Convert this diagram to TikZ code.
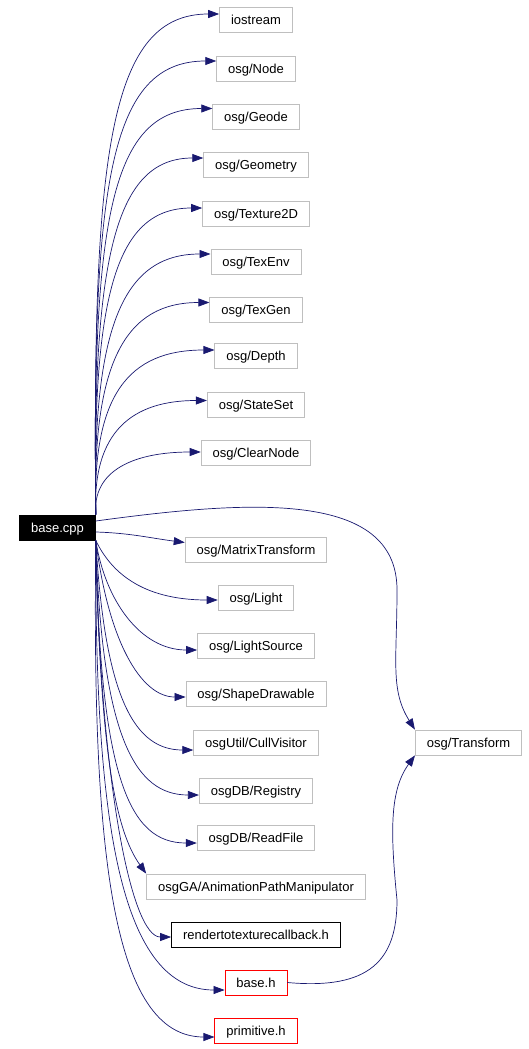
\documentclass[tikz,border=0pt]{standalone}
\usepackage{fontspec}
\setmainfont{Liberation Sans}
\usetikzlibrary{arrows.meta}

\definecolor{edgeblue}{RGB}{25,25,112}

\begin{document}
\begin{tikzpicture}[x=1pt,y=-1pt,>={Triangle[length=11pt,width=8pt]},
   box/.style={draw=gray!50,line width=0.8pt,minimum height=25pt,inner xsep=11.5pt,
               inner ysep=0pt,text height=9.6pt,text depth=0pt,font=\fontsize{13}{15}\selectfont},
   incl/.style={->,edgeblue,line width=0.7pt}]
  \useasboundingbox (0,0) rectangle (529,1049);
  % the source file
  \node[box,draw=black,fill=black,text=white] (base) at (57.5,527.5) {base.cpp};
  % included headers, one column
  \foreach \n/\t/\y in {io/iostream/20, node/{osg/Node}/68.5, geode/{osg/Geode}/116.5,
      geom/{osg/Geometry}/164.5, texd/{osg/Texture2D}/213.5, texenv/{osg/TexEnv}/261.5,
      texgen/{osg/TexGen}/309.5, depth/{osg/Depth}/355.5, sset/{osg/StateSet}/404.5,
      clear/{osg/ClearNode}/452.5, mtrans/{osg/MatrixTransform}/549.5, light/{osg/Light}/597.5,
      lsrc/{osg/LightSource}/645.5, shape/{osg/ShapeDrawable}/693.5,
      cull/{osgUtil/CullVisitor}/742.5, reg/{osgDB/Registry}/790.5, read/{osgDB/ReadFile}/838,
      anim/{osgGA/AnimationPathManipulator}/886.5}
    \node[box] (\n) at (256,\y) {\t};
  \node[box,draw=black] (rtt) at (256,934.5) {rendertotexturecallback.h};
  \node[box,draw=red] (baseh) at (256,982.5) {base.h};
  \node[box,draw=red] (prim) at (256,1030.5) {primitive.h};
  \node[box] (trans) at (468.5,742.5) {osg/Transform};
  % upper fan
  \foreach \n/\a/\c/\s in {io/150/109/6, node/184/107/7.5, geode/218/101/8, geom/254/87/6.5,
      texd/291/85/5.5, texenv/326/87/7.5, texgen/360/83/7, depth/395/86/5.5,
      sset/431/74/4, clear/470/66/0.5}
    \draw[incl] (base.north east) .. controls (92,\a) and +(-\c,0) .. ([yshift=\s pt]\n.west);
  % lower fan
  \draw[incl] ([yshift=-4.5pt]base.east) .. controls (130,533) and (150,538) .. ([yshift=7pt]mtrans.west);
  \foreach \n/\p/\c/\s in {light/{110,570}/78/-2.5, lsrc/{105,600}/57/-4.5, shape/{108,640}/45/-3.5,
      cull/{105,700}/58/-7.5, reg/{102,740}/63/-4.5, read/{100,780}/67/-5,
      rtt/{100,780}/40/-2.5, baseh/{95,800}/110/-7.5, prim/{92,850}/103/-6.5}
    \draw[incl] (base.south east) .. controls (\p) and +(-\c,0) .. ([yshift=\s pt]\n.west);
  \draw[incl] (base.south east) .. controls (100,750) and (115,830) .. (anim.north west);
  % osg/Transform
  \draw[incl] ([yshift=6.5pt]base.east) .. controls (250,500) and (397,490) .. (397,590)
      .. controls (397,660) and (390,690) .. (trans.north west);
  \draw[incl] (baseh.east) .. controls (370,990) and (397,960) .. (397,900)
      .. controls (390,830) and (390,790) .. (trans.south west);
\end{tikzpicture}
\end{document}
